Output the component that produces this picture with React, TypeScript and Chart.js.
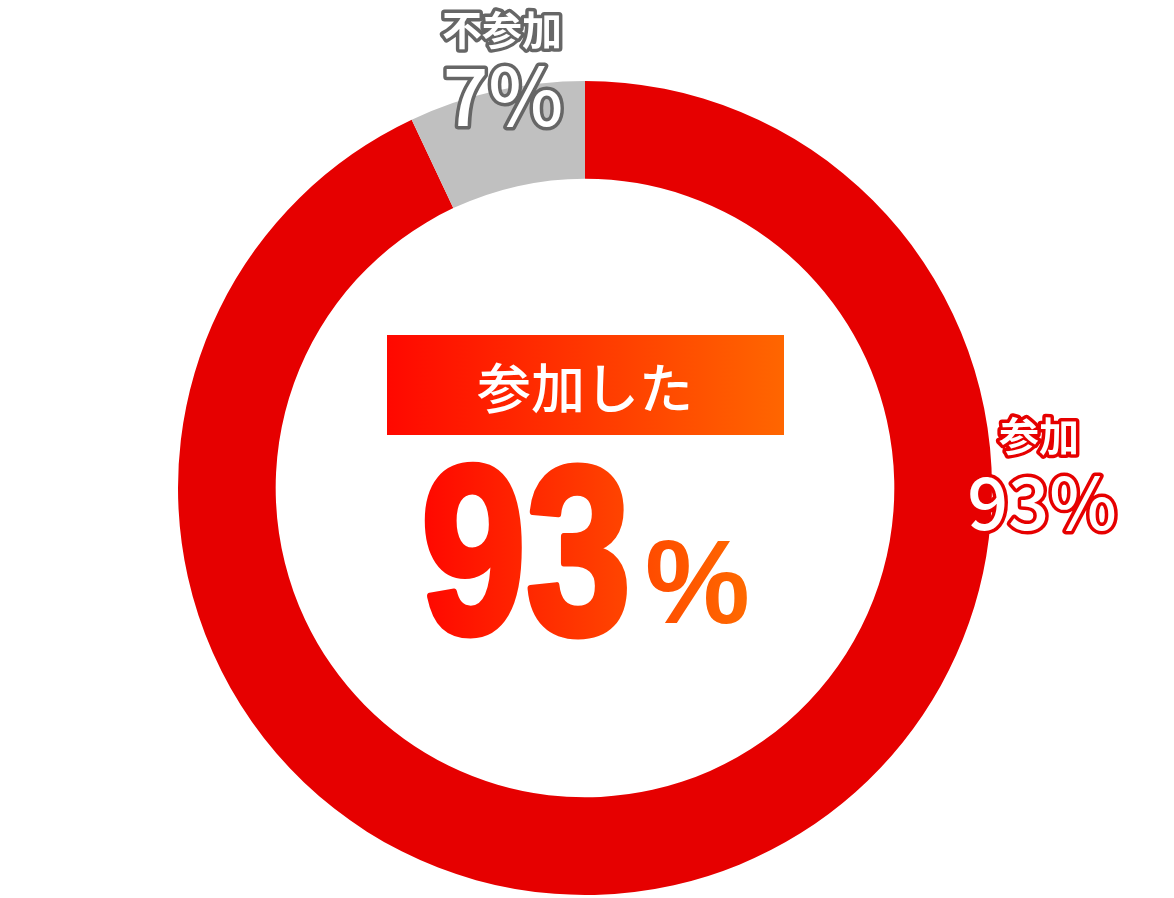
import React, { useEffect, useRef } from "react";
import { Chart, registerables } from "chart.js";

Chart.register(...registerables);

const categories = ["参加", "不参加"];
const values = [93, 7];
const sliceColors = ["#e60000", "#c0c0c0"];
const headline = "参加した";

const labelPlugin = {
  id: "labelPlugin",
  afterDraw(chart: any) {
    const ctx = chart.ctx as CanvasRenderingContext2D;
    const meta = chart.getDatasetMeta(0);
    const arc = meta.data[0] as any;
    const cx = arc.x;
    const cy = arc.y;
    ctx.save();

    // banner
    const bx0 = cx - 198;
    const bx1 = cx + 199;
    const bg = ctx.createLinearGradient(bx0, 0, bx1, 0);
    bg.addColorStop(0, "#ff0800");
    bg.addColorStop(1, "#ff6600");
    ctx.fillStyle = bg;
    ctx.fillRect(bx0, cy - 153, bx1 - bx0, 100);
    ctx.fillStyle = "#ffffff";
    ctx.textAlign = "center";
    ctx.textBaseline = "middle";
    ctx.font = "500 54px 'Noto Sans CJK JP'";
    ctx.fillText(headline, cx, cy - 100);

    // big number
    const gx0 = cx - 162;
    const gx1 = cx + 165;
    ctx.textBaseline = "alphabetic";
    ctx.textAlign = "left";
    ctx.save();
    const sx = 0.79;
    const ox = cx - 164;
    ctx.translate(ox, cy + 145);
    ctx.scale(sx, 1);
    const g1 = ctx.createLinearGradient((gx0 - ox) / sx, 0, (gx1 - ox) / sx, 0);
    g1.addColorStop(0, "#ff0800");
    g1.addColorStop(1, "#ff6a00");
    ctx.fillStyle = g1;
    ctx.strokeStyle = g1;
    ctx.font = "700 239px 'Liberation Sans'";
    ctx.lineWidth = 7;
    ctx.lineJoin = "round";
    ctx.fillText(String(values[0]), 0, 0);
    ctx.strokeText(String(values[0]), 0, 0);
    ctx.restore();
    const g2 = ctx.createLinearGradient(gx0, 0, gx1, 0);
    g2.addColorStop(0, "#ff0800");
    g2.addColorStop(1, "#ff6a00");
    ctx.fillStyle = g2;
    ctx.font = "700 118px 'Liberation Sans'";
    ctx.fillText("%", cx + 60, cy + 135);

    // outside labels
    const drawOutlined = (text: string, x: number, y: number, font: string, stroke: string, lw: number) => {
      ctx.font = font;
      ctx.textAlign = "center";
      ctx.textBaseline = "middle";
      ctx.lineJoin = "round";
      ctx.lineWidth = lw;
      ctx.strokeStyle = stroke;
      ctx.strokeText(text, x, y);
      ctx.fillStyle = "#ffffff";
      ctx.fillText(text, x, y);
    };
    drawOutlined(categories[1], cx - 83, cy - 458, "700 40px 'Noto Sans CJK JP'", "#666666", 7);
    drawOutlined(values[1] + "%", cx - 82, cy - 392, "500 80px 'Noto Sans CJK JP'", "#666666", 7);
    drawOutlined(categories[0], cx + 454, cy - 52, "700 40px 'Noto Sans CJK JP'", "#e60000", 7);
    drawOutlined(values[0] + "%", cx + 457, cy + 15, "500 72px 'Noto Sans CJK JP'", "#e60000", 7);
    ctx.restore();
  },
};

export default function App() {
  const ref = useRef<HTMLCanvasElement | null>(null);
  useEffect(() => {
    if (!ref.current) return;
    const chart = new Chart(ref.current, {
      type: "doughnut",
      data: {
        labels: categories,
        datasets: [
          {
            data: values,
            backgroundColor: sliceColors,
            borderWidth: 0,
          },
        ],
      },
      options: {
        animation: false,
        responsive: false,
        maintainAspectRatio: false,
        cutout: "76%",
        layout: { padding: { top: 81, bottom: 3, left: 178, right: 182 } },
        plugins: { legend: { display: false }, tooltip: { enabled: false } },
      },
      plugins: [labelPlugin],
    });
    return () => chart.destroy();
  }, []);
  return (
    <div style={{ position: "fixed", left: 0, top: 0, width: 1174, height: 898, background: "#fff" }}>
      <canvas ref={ref} width={1174} height={898} style={{ width: 1174, height: 898 }} />
    </div>
  );
}
